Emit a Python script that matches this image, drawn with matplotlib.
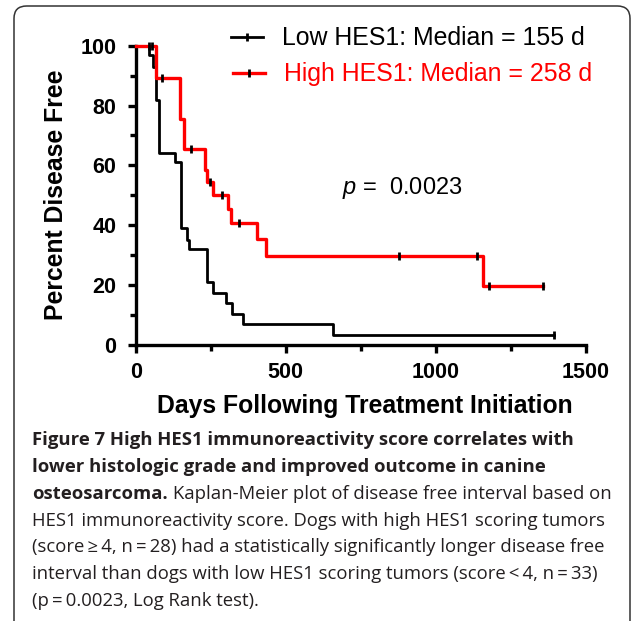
import numpy as np
import matplotlib
matplotlib.use("Agg")
from matplotlib import pyplot as plt
from matplotlib.patches import FancyBboxPatch

# Kaplan-Meier data (days, percent disease free)
low_times = [45, 59, 66, 78, 130, 152, 170, 178, 236, 256, 300, 322, 357, 659]
low_surv = [97, 93, 82, 64, 61, 39, 35, 32, 21, 17.5, 14, 10.5, 7, 3.5]
low_end = 1394
low_censor_t = [1394]
low_censor_s = [3.5]

high_times = [66, 148, 160, 231, 239, 256, 309, 317, 405, 433, 1159]
high_surv = [89.3, 75.6, 65.5, 58.5, 54.5, 50, 45.5, 40.9, 35.5, 29.6, 19.7]
high_end = 1356
high_censor_t = [43, 53, 87, 184, 247, 289, 344, 878, 1136, 1179, 1356]
high_censor_s = [100, 100, 89.3, 65.5, 54.5, 50, 40.9, 29.6, 29.6, 19.7, 19.7]

W, H = 633, 621
fig = plt.figure(figsize=(W / 100, H / 100), dpi=100)
plt.rcParams["mathtext.fontset"] = "custom"
plt.rcParams["mathtext.it"] = "Liberation Sans:italic"

def px(x, y):
    return x / W, 1 - y / H

FONT = "Liberation Sans"
CAP_FONT = "Open Sans"

# frame round the figure (rounded top corners, open at bottom)
frame = FancyBboxPatch(px(14, 640), (630 - 14) / W, (640 - 6) / H,
                       boxstyle="round,pad=0,rounding_size=0.02",
                       transform=fig.transFigure, fill=False,
                       edgecolor="#333333", linewidth=1.1, clip_on=False)
fig.patches.append(frame)

x0, ytop = px(135.7, 45.7)
x1, ybot = px(585.7, 345)
ax = fig.add_axes([x0, ybot, x1 - x0, ytop - ybot])

def km_steps(times, surv, end):
    t = [0] + list(times) + [end]
    s = [100] + list(surv) + [surv[-1]]
    return t, s

t, s = km_steps(low_times, low_surv, low_end)
ax.step(t, s, where="post", color="black", lw=2.0, clip_on=False, zorder=3)
t, s = km_steps(high_times, high_surv, high_end)
ax.step(t, s, where="post", color="red", lw=2.4, clip_on=False, zorder=4)
ax.plot(low_censor_t, low_censor_s, ls="none", marker="|", ms=6, mew=2.0,
        color="black", clip_on=False, zorder=5)
ax.plot(high_censor_t, high_censor_s, ls="none", marker="|", ms=6, mew=2.0,
        color="black", clip_on=False, zorder=5)

ax.set_xlim(0, 1500)
ax.set_ylim(0, 100)
ax.set_xticks([0, 500, 1000, 1500])
ax.set_xticks([250, 750, 1250], minor=True)
ax.set_yticks([0, 20, 40, 60, 80, 100])
ax.set_yticks([10, 30, 50, 70, 90], minor=True)
for sp in ["top", "right"]:
    ax.spines[sp].set_visible(False)
for sp in ["left", "bottom"]:
    ax.spines[sp].set_linewidth(2.4)
ax.tick_params(which="major", length=6, width=2.4, direction="out")
ax.tick_params(which="minor", length=4, width=2.4, direction="out")
ax.tick_params(axis="x", which="major", pad=6)
ax.tick_params(axis="y", which="major", pad=8)
for lab in ax.get_xticklabels() + ax.get_yticklabels():
    lab.set_fontfamily(FONT)
    lab.set_fontweight("bold")
    lab.set_fontsize(15.5)
ax.patch.set_visible(False)

# axis titles
fig.text(*px(56, 195), "Percent Disease Free", rotation=90, ha="center",
         va="center", fontsize=17.8, fontweight="bold", family=FONT)
fig.text(*px(365, 406), "Days Following Treatment Initiation", ha="center",
         va="center", fontsize=17.8, fontweight="bold", family=FONT)

# legend
fig.lines.append(plt.Line2D([231 / W, 263 / W], [1 - 37 / H] * 2, color="black",
                            lw=2.0, transform=fig.transFigure))
fig.lines.append(plt.Line2D([247 / W], [1 - 37 / H], color="black", marker="|",
                            ms=6, mew=2.0, transform=fig.transFigure))
fig.lines.append(plt.Line2D([233 / W, 265 / W], [1 - 73 / H] * 2, color="red",
                            lw=2.4, transform=fig.transFigure))
fig.lines.append(plt.Line2D([249 / W], [1 - 73 / H], color="black", marker="|",
                            ms=6, mew=2.0, transform=fig.transFigure))
fig.text(*px(282, 38), "Low HES1: Median = 155 d", ha="left", va="center",
         fontsize=17.9, family=FONT, color="black")
fig.text(*px(284, 74), "High HES1: Median = 258 d", ha="left", va="center",
         fontsize=17.9, family=FONT, color="red")

fig.text(*px(342, 188), "$p$ =  0.0023", ha="left", va="center",
         fontsize=17, family=FONT, color="black")

# caption
cap_size = 13.3
cap_x = 32
cap_y = [440, 467, 494, 521, 547, 574, 601]
fig.text(*px(cap_x, cap_y[0]),
         "Figure 7 High HES1 immunoreactivity score correlates with",
         ha="left", va="center", fontsize=cap_size, fontweight="bold",
         family=CAP_FONT, color="#231f20")
fig.text(*px(cap_x, cap_y[1]),
         "lower histologic grade and improved outcome in canine",
         ha="left", va="center", fontsize=cap_size, fontweight="bold",
         family=CAP_FONT, color="#231f20")
bold_part = fig.text(*px(cap_x, cap_y[2]), "osteosarcoma.", ha="left",
                     va="center", fontsize=cap_size, fontweight="bold",
                     family=CAP_FONT, color="#231f20")
fig.canvas.draw()
bb = bold_part.get_window_extent()
fig.text(bb.x1 / W + 5 / W, px(0, cap_y[2])[1],
         "Kaplan-Meier plot of disease free interval based on",
         ha="left", va="center", fontsize=cap_size, family=CAP_FONT,
         color="#231f20")
rest = [
    "HES1 immunoreactivity score. Dogs with high HES1 scoring tumors",
    "(score\u2009\u2265\u20094, n\u2009=\u200928) had a statistically significantly longer disease free",
    "interval than dogs with low HES1 scoring tumors (score\u2009<\u20094, n\u2009=\u200933)",
    "(p\u2009=\u20090.0023, Log Rank test).",
]
for line, yy in zip(rest, cap_y[3:]):
    fig.text(*px(cap_x, yy), line, ha="left", va="center", fontsize=cap_size,
             family=CAP_FONT, color="#231f20")

fig.savefig("out.png", dpi=100)
